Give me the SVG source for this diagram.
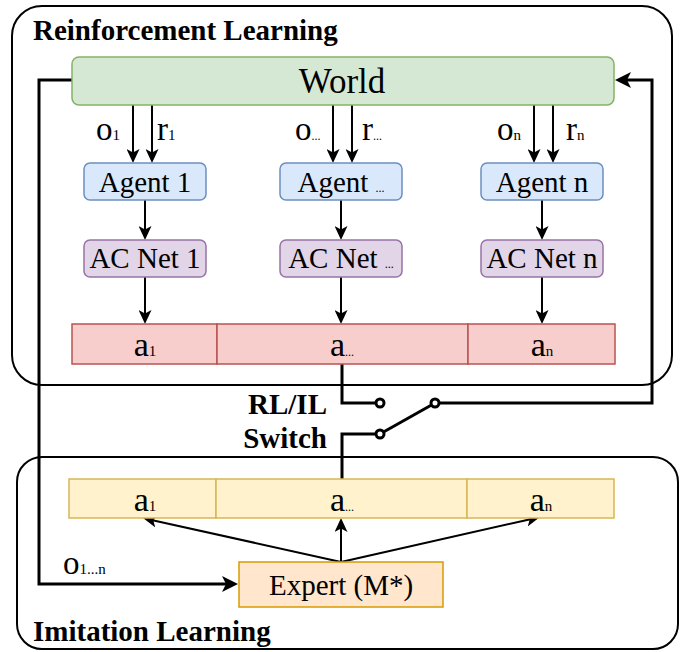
<svg xmlns="http://www.w3.org/2000/svg" width="680" height="652" viewBox="0 0 680 652">
<style>
text{font-family:"Liberation Serif","Times New Roman",serif;fill:#000}
.t{font-size:29px}
.l{font-size:33px}
.a{font-size:34px}
.w{font-size:35px}
.b{font-size:29px;font-weight:bold}
.s{font-size:15px}
.d{font-size:12px}
.grp{fill:none;stroke:#000;stroke-width:2}
.wire{fill:none;stroke:#000;stroke-width:3}
.ln{fill:none;stroke:#000;stroke-width:2}
.sw{fill:#fff;stroke:#000;stroke-width:3}
</style>
<defs>
<marker id="arr" viewBox="0 0 14 13" refX="10" refY="6.5" markerWidth="14" markerHeight="13" markerUnits="userSpaceOnUse" orient="auto">
<path d="M0,0 L14,6.5 L0,13 L3.5,6.5 z" fill="#000"/>
</marker>
<marker id="arrL" viewBox="0 0 16 16" refX="11" refY="8" markerWidth="16" markerHeight="16" markerUnits="userSpaceOnUse" orient="auto">
<path d="M0,0 L16,8 L0,16 L4,8 z" fill="#000"/>
</marker>
</defs>

<g id="rl-group">
<rect class="grp" x="12" y="6" width="660" height="379" rx="30"/>
<text class="b" x="33" y="40">Reinforcement Learning</text>
</g>
<g id="il-group">
<rect class="grp" x="17" y="457" width="661" height="192" rx="25"/>
<text class="b" x="33" y="641">Imitation Learning</text>
</g>

<g id="connectors">
<path class="ln" d="M133,105 V159" marker-end="url(#arr)"/>
<path class="ln" d="M152,105 V159" marker-end="url(#arr)"/>
<path class="ln" d="M333,105 V159" marker-end="url(#arr)"/>
<path class="ln" d="M352,105 V159" marker-end="url(#arr)"/>
<path class="ln" d="M534,105 V159" marker-end="url(#arr)"/>
<path class="ln" d="M553,105 V159" marker-end="url(#arr)"/>
<path class="ln" d="M145,200 V236" marker-end="url(#arr)"/>
<path class="ln" d="M341,200 V236" marker-end="url(#arr)"/>
<path class="ln" d="M542,200 V236" marker-end="url(#arr)"/>
<path class="ln" d="M145,277 V320" marker-end="url(#arr)"/>
<path class="ln" d="M341,277 V320" marker-end="url(#arr)"/>
<path class="ln" d="M542,277 V320" marker-end="url(#arr)"/>
<path class="ln" d="M341,562 L146.9,518.9" marker-end="url(#arr)"/>
<path class="ln" d="M341,562 V522" marker-end="url(#arr)"/>
<path class="ln" d="M341,562 L536.1,517.9" marker-end="url(#arr)"/>
<path class="wire" d="M72,80 H39 V584 H233" marker-end="url(#arrL)"/>
<path class="wire" d="M440,403 H652 V80 H620" marker-end="url(#arrL)"/>
<path class="wire" d="M342,364 V403 H376"/>
<path class="wire" d="M376,434 H342 V479"/>
<path class="wire" d="M383.5,432 L431.5,405"/>
<circle class="sw" cx="380" cy="403" r="4"/>
<circle class="sw" cx="435" cy="403" r="4"/>
<circle class="sw" cx="380" cy="434" r="4"/>
<text class="l" x="96" y="140">o<tspan class="s">1</tspan></text>
<text class="l" x="157" y="140">r<tspan class="s">1</tspan></text>
<text class="l" x="295" y="140">o<tspan class="d">...</tspan></text>
<text class="l" x="362" y="140">r<tspan class="d">...</tspan></text>
<text class="l" x="497" y="140">o<tspan class="s">n</tspan></text>
<text class="l" x="566" y="140">r<tspan class="s">n</tspan></text>
<text class="l" x="63" y="574">o<tspan class="s">1...n</tspan></text>
<text class="b" x="327" y="414" text-anchor="end">RL/IL</text>
<text class="b" x="327" y="448" text-anchor="end">Switch</text>
</g>

<g id="world">
<rect x="72" y="57" width="542" height="48" rx="7" fill="#d5e8d4" stroke="#82b366" stroke-width="1.5"/>
<text class="w" x="342" y="93" text-anchor="middle">World</text>
</g>

<g id="agent1">
<rect x="84" y="163" width="122" height="37" rx="6" fill="#dae8fc" stroke="#6c8ebf" stroke-width="1.5"/>
<text class="t" x="145" y="192" text-anchor="middle">Agent 1</text>
</g>
<g id="agent-mid">
<rect x="280" y="163" width="122" height="37" rx="6" fill="#dae8fc" stroke="#6c8ebf" stroke-width="1.5"/>
<text class="t" x="341" y="192" text-anchor="middle">Agent <tspan class="d">...</tspan></text>
</g>
<g id="agentn">
<rect x="481" y="163" width="122" height="37" rx="6" fill="#dae8fc" stroke="#6c8ebf" stroke-width="1.5"/>
<text class="t" x="542" y="192" text-anchor="middle">Agent n</text>
</g>

<g id="acnet1">
<rect x="84" y="240" width="122" height="37" rx="6" fill="#e1d5e7" stroke="#9673a6" stroke-width="1.5"/>
<text class="t" x="145" y="268" text-anchor="middle">AC Net 1</text>
</g>
<g id="acnet-mid">
<rect x="280" y="240" width="122" height="37" rx="6" fill="#e1d5e7" stroke="#9673a6" stroke-width="1.5"/>
<text class="t" x="341" y="268" text-anchor="middle">AC Net <tspan class="d">...</tspan></text>
</g>
<g id="acnetn">
<rect x="481" y="240" width="122" height="37" rx="6" fill="#e1d5e7" stroke="#9673a6" stroke-width="1.5"/>
<text class="t" x="542" y="268" text-anchor="middle">AC Net n</text>
</g>

<g id="rl-actions">
<rect x="72" y="324" width="145" height="40" fill="#f8cecc" stroke="#b85450" stroke-width="1.5"/>
<rect x="217" y="324" width="251" height="40" fill="#f8cecc" stroke="#b85450" stroke-width="1.5"/>
<rect x="468" y="324" width="147" height="40" fill="#f8cecc" stroke="#b85450" stroke-width="1.5"/>
<text class="a" x="145" y="356" text-anchor="middle">a<tspan class="s">1</tspan></text>
<text class="a" x="342" y="356" text-anchor="middle">a<tspan class="d">...</tspan></text>
<text class="a" x="542" y="356" text-anchor="middle">a<tspan class="s">n</tspan></text>
</g>

<g id="il-actions">
<rect x="69" y="479" width="147" height="39" fill="#fff2cc" stroke="#d6b656" stroke-width="1.5"/>
<rect x="216" y="479" width="251" height="39" fill="#fff2cc" stroke="#d6b656" stroke-width="1.5"/>
<rect x="467" y="479" width="147" height="39" fill="#fff2cc" stroke="#d6b656" stroke-width="1.5"/>
<text class="a" x="145" y="511" text-anchor="middle">a<tspan class="s">1</tspan></text>
<text class="a" x="342" y="511" text-anchor="middle">a<tspan class="d">...</tspan></text>
<text class="a" x="541" y="511" text-anchor="middle">a<tspan class="s">n</tspan></text>
</g>

<g id="expert">
<rect x="239" y="562" width="204" height="45" fill="#ffe6cc" stroke="#d79b00" stroke-width="1.5"/>
<text class="t" x="341" y="595" text-anchor="middle">Expert (M*)</text>
</g>
</svg>
